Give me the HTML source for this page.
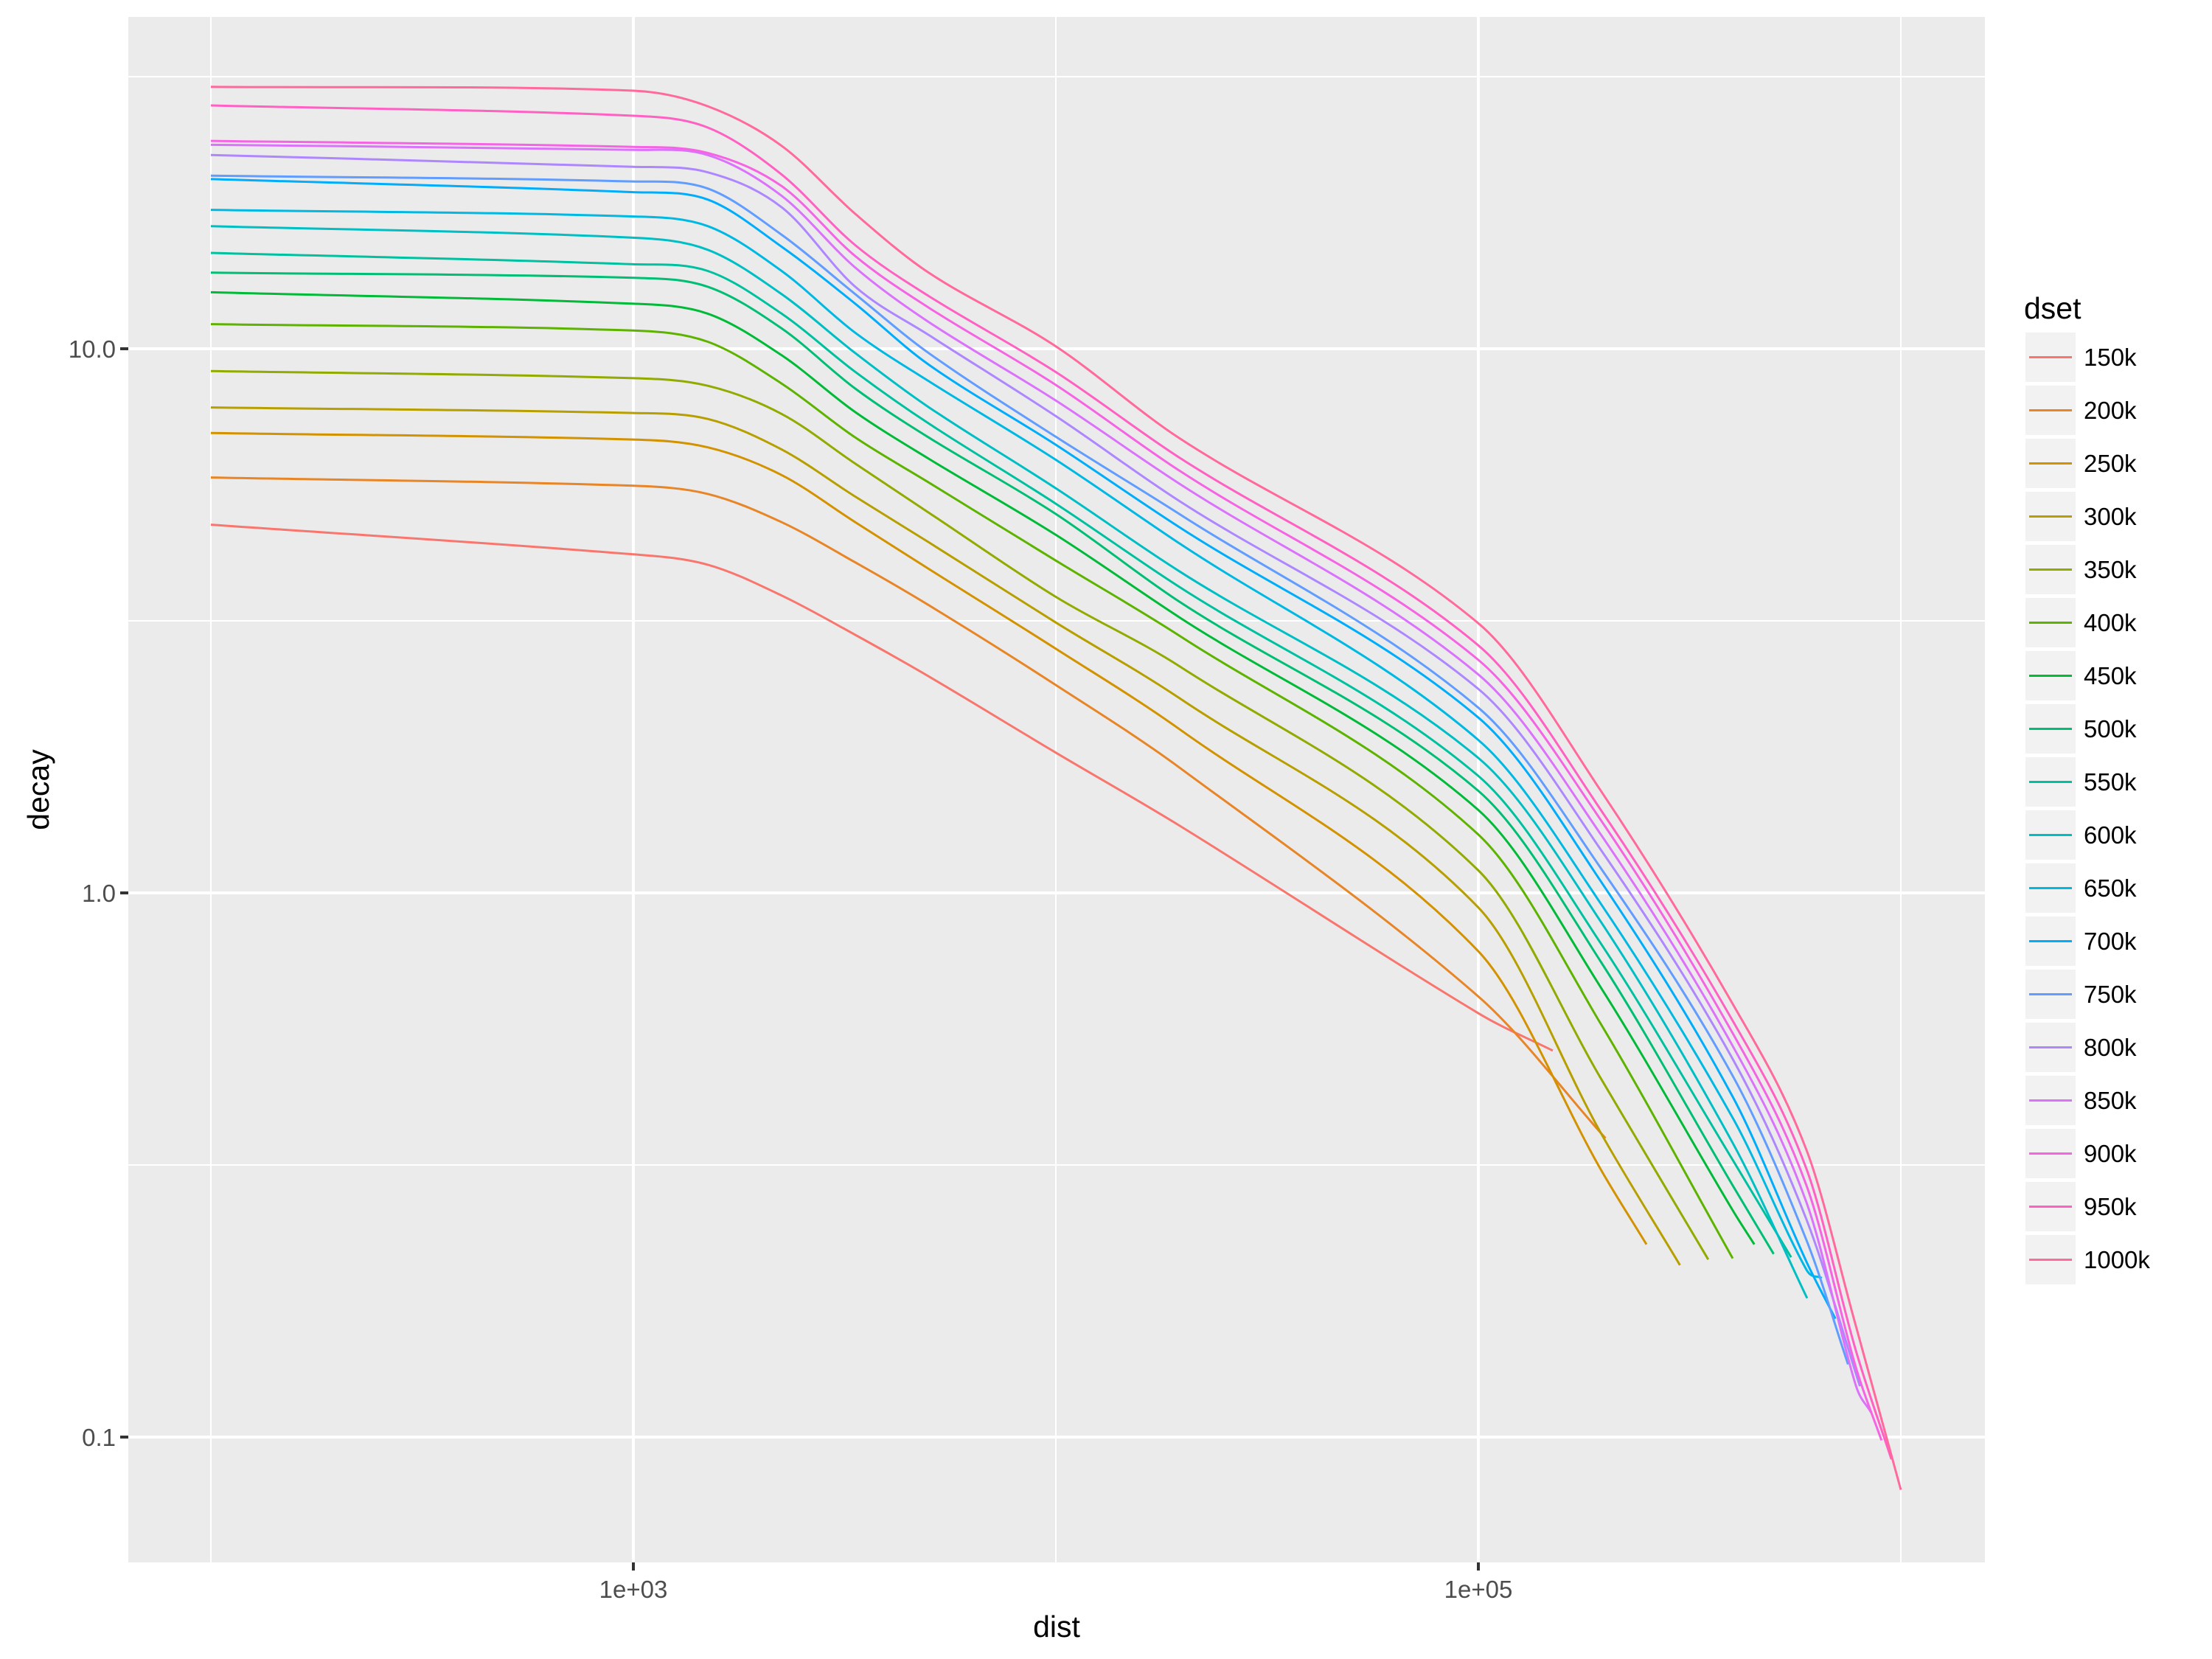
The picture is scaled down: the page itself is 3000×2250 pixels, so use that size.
<!DOCTYPE html>
<html><head><meta charset="utf-8">
<style>
html,body{margin:0;padding:0;background:#fff;}
svg{display:block;font-family:"Liberation Sans",Arial,sans-serif;}
</style></head>
<body>
<svg id="chart" width="3000" height="2250" viewBox="0 0 3000 2250" xmlns="http://www.w3.org/2000/svg">
<rect x="0" y="0" width="3000" height="2250" fill="#ffffff"/>
<rect x="174" y="23" width="2518" height="2096" fill="#EBEBEB"/>
<g id="grid"></g>
<g id="series"></g>
<g id="axes"></g>
<text x="1433" y="2220" font-size="41" text-anchor="middle" fill="#000">dist</text>
<text x="66" y="1071" font-size="41" text-anchor="middle" fill="#000" transform="rotate(-90 66 1071)">decay</text>
<g id="legend">
<text x="2745" y="432" font-size="41" fill="#000">dset</text>
</g>
</svg>
<script>
// ---- data ----
const dsetLabels = ["150k","200k","250k","300k","350k","400k","450k","500k","550k","600k","650k","700k","750k","800k","850k","900k","950k","1000k"];
const dsetSize = [150000,200000,250000,300000,350000,400000,450000,500000,550000,600000,650000,700000,750000,800000,850000,900000,950000,1000000];
const distGrid = [100,1000,1500,2244,3350,5000,10000,19600,100000,195000,400000,598000,781000];
const decay150k  = [4.75,4.19,4.01,3.52,2.98,2.50,1.81,1.33,0.601];
const decay200k  = [5.8,5.60,5.41,4.80,4.05,3.38,2.41,1.70,0.645];
const decay250k  = [7.0,6.81,6.59,5.86,4.80,3.94,2.81,2.00,0.781,0.310];
const decay300k  = [7.8,7.62,7.43,6.53,5.35,4.41,3.14,2.28,0.940,0.362];
const decay350k  = [9.1,8.83,8.55,7.59,6.15,5.00,3.50,2.61,1.10,0.456];
const decay400k  = [11.1,10.8,10.3,8.63,6.87,5.68,4.08,2.97,1.28,0.574];
const decay450k  = [12.7,12.1,11.6,9.73,7.65,6.28,4.55,3.21,1.42,0.670,0.261];
const decay500k  = [13.8,13.5,13.0,10.9,8.45,6.87,4.97,3.43,1.54,0.747,0.290];
const decay550k  = [15.0,14.3,13.9,11.6,9.07,7.29,5.19,3.65,1.64,0.807,0.323];
const decay600k  = [16.8,16.0,15.2,12.6,9.82,7.81,5.54,3.90,1.77,0.885,0.347];
const decay650k  = [18.0,17.5,16.8,13.9,10.7,8.72,6.25,4.39,1.91,0.955,0.386,0.203];
const decay700k  = [20.5,19.4,18.8,15.4,12.1,9.35,6.66,4.70,2.10,1.05,0.422,0.210];
const decay750k  = [20.8,20.3,19.7,16.2,12.6,9.82,6.89,4.97,2.19,1.11,0.461,0.230];
const decay800k  = [22.7,21.6,21.1,18.2,13.0,10.6,7.52,5.25,2.37,1.20,0.495,0.251];
const decay850k  = [23.7,23.2,22.7,19.1,14.1,11.2,8.03,5.65,2.52,1.28,0.523,0.270,0.125];
const decay900k  = [24.1,23.5,22.9,19.9,14.8,11.9,8.58,5.97,2.68,1.36,0.552,0.290,0.135];
const decay950k  = [28.0,26.8,25.5,20.9,15.5,12.5,9.06,6.31,2.85,1.42,0.582,0.311,0.145];
const decay1000k = [30.3,29.8,27.9,23.6,17.7,13.8,10.1,6.85,3.13,1.54,0.625,0.337,0.161];
const endDecay = [0.513,0.354,0.226,0.207,0.212,0.213,0.226,0.217,0.214,0.180,0.196,0.165,0.136,0.124,0.111,0.0986,0.091,0.080];
const xMajorTicks = [1000,100000];
const xMajorLabels = ["1e+03","1e+05"];
const xMinorTicks = [100,10000,1000000];
const yMajorTicks = [0.1,1,10];
const yMajorLabels = ["0.1","1.0","10.0"];
const yMinorTicks = [0.316228,3.16228,31.6228];

const allDecay = [decay150k,decay200k,decay250k,decay300k,decay350k,decay400k,decay450k,decay500k,decay550k,decay600k,decay650k,decay700k,decay750k,decay800k,decay850k,decay900k,decay950k,decay1000k];

// ---- scales ----
const PL=174, PT=23, PR=2692, PB=2119;
function xScale(d){ return 859 + 573*(Math.log10(d)-3); }
function yScale(v){ return 1211 - 738*Math.log10(v); }

// ---- hue palette (ggplot hcl) ----
function hcl(h,c,l){
  const hr=h*Math.PI/180, U=c*Math.cos(hr), V=c*Math.sin(hr);
  const Y = l>8 ? Math.pow((l+16)/116,3) : l/903.3;
  const un=0.1978398, vn=0.4683363;
  const up=U/(13*l)+un, vp=V/(13*l)+vn;
  const X=Y*9*up/(4*vp), Z=Y*(12-3*up-20*vp)/(4*vp);
  let r= 3.2404542*X-1.5371385*Y-0.4985314*Z;
  let g=-0.9692660*X+1.8760108*Y+0.0415560*Z;
  let b= 0.0556434*X-0.2040259*Y+1.0572252*Z;
  const gam=t=>{t=t<=0.0031308?12.92*t:1.055*Math.pow(t,1/2.4)-0.055;return Math.round(Math.max(0,Math.min(1,t))*255);};
  return "rgb("+gam(r)+","+gam(g)+","+gam(b)+")";
}
const n=dsetLabels.length;
const colors=dsetLabels.map((_,i)=>hcl(15+360*i/n,100,65));

const NS="http://www.w3.org/2000/svg";
function mk(tag,attrs,parent){const e=document.createElementNS(NS,tag);for(const k in attrs)e.setAttribute(k,attrs[k]);parent.appendChild(e);return e;}

// ---- grid ----
const grid=document.getElementById('grid');
yMinorTicks.forEach(v=>{const y=yScale(v);const l=mk('line',{x1:PL,x2:PR,y1:y,y2:y,stroke:'#fff','stroke-width':2},grid);

});
xMinorTicks.forEach(d=>{const x=xScale(d);const l=mk('line',{x1:x,x2:x,y1:PT,y2:PB,stroke:'#fff','stroke-width':2},grid);

});
yMajorTicks.forEach(v=>{const y=yScale(v);const l=mk('line',{x1:PL,x2:PR,y1:y,y2:y,stroke:'#fff','stroke-width':4},grid);

});
xMajorTicks.forEach(d=>{const x=xScale(d);const l=mk('line',{x1:x,x2:x,y1:PT,y2:PB,stroke:'#fff','stroke-width':4},grid);

});

// ---- axes ----
const axes=document.getElementById('axes');
xMajorTicks.forEach((d,i)=>{const x=xScale(d);
  const t=mk('line',{x1:x,x2:x,y1:PB,y2:PB+11,stroke:'#333','stroke-width':4},axes);
  
  
  const tx=mk('text',{x:x,y:2167,'font-size':33,'text-anchor':'middle',fill:'#4D4D4D'},axes);
  tx.textContent=xMajorLabels[i];
  
  
});
yMajorTicks.forEach((v,i)=>{const y=yScale(v);
  const t=mk('line',{x1:PL-11,x2:PL,y1:y,y2:y,stroke:'#333','stroke-width':4},axes);
  
  
  const tx=mk('text',{x:157,y:y+12,'font-size':33,'text-anchor':'end',fill:'#4D4D4D'},axes);
  tx.textContent=yMajorLabels[i];
  
  
});

// ---- smooth cubic Hermite (central-difference tangents) ----
function smoothPath(px,py){
  const m=px.length; if(m<2) return '';
  const t=new Array(m);
  t[0]=(py[1]-py[0])/(px[1]-px[0]);
  t[m-1]=(py[m-1]-py[m-2])/(px[m-1]-px[m-2]);
  for(let i=1;i<m-1;i++){
    const s0=(py[i]-py[i-1])/(px[i]-px[i-1]), s1=(py[i+1]-py[i])/(px[i+1]-px[i]);
    t[i]=(py[i+1]-py[i-1])/(px[i+1]-px[i-1]);
    if(s0*s1<=0) t[i]=0;
  }
  let d='M'+px[0].toFixed(1)+','+py[0].toFixed(1);
  for(let i=0;i<m-1;i++){
    const h=px[i+1]-px[i];
    d+=' C'+(px[i]+h/3).toFixed(1)+','+(py[i]+t[i]*h/3).toFixed(1)+' '+(px[i+1]-h/3).toFixed(1)+','+(py[i+1]-t[i+1]*h/3).toFixed(1)+' '+px[i+1].toFixed(1)+','+py[i+1].toFixed(1);
  }
  return d;
}

// ---- series ----
const seriesG=document.getElementById('series');
allDecay.forEach((vals,si)=>{
  const px=[],py=[];
  vals.forEach((v,j)=>{ if(v!=null && distGrid[j]<dsetSize[si]){px.push(xScale(distGrid[j]));py.push(yScale(v));} });
  px.push(xScale(dsetSize[si])); py.push(yScale(endDecay[si]));
  const p=mk('path',{d:smoothPath(px,py),fill:'none',stroke:colors[si],'stroke-width':3},seriesG);
  
  
});

// ---- legend ----
const lg=document.getElementById('legend');
dsetLabels.forEach((lab,i)=>{
  const top=451+72*i;
  const g=mk('g',{},lg);
  
  
  mk('rect',{x:2747,y:top,width:68,height:67,fill:'#F2F2F2'},g);
  mk('line',{x1:2752,x2:2810,y1:top+33.5,y2:top+33.5,stroke:colors[i],'stroke-width':3},g);
  const tx=mk('text',{x:2826,y:top+45,'font-size':33,fill:'#000'},g);
  tx.textContent=lab;
});
</script>
</body></html>
